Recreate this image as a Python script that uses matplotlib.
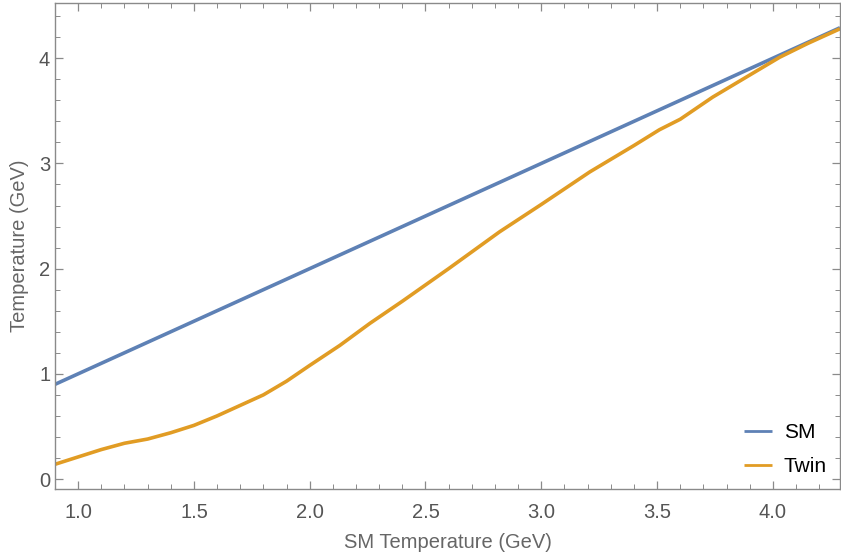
import numpy as np
import matplotlib
matplotlib.use("Agg")
import matplotlib.pyplot as plt
from matplotlib.ticker import MultipleLocator, FormatStrFormatter

# data
sm_temp = [0.90, 4.29]
sm_line = [0.90, 4.29]

twin_x = [0.90, 1.0, 1.1, 1.2, 1.3, 1.4, 1.5, 1.6, 1.7, 1.8, 1.9, 2.0, 2.13,
          2.26, 2.4, 2.6, 2.82, 3.0, 3.21, 3.4, 3.51, 3.6, 3.74, 3.9, 4.03,
          4.15, 4.29]
twin_y = [0.14, 0.21, 0.28, 0.34, 0.38, 0.44, 0.51, 0.60, 0.70, 0.80, 0.93,
          1.08, 1.27, 1.48, 1.69, 2.00, 2.35, 2.61, 2.92, 3.17, 3.32, 3.42,
          3.63, 3.84, 4.01, 4.14, 4.28]

labels = ["SM", "Twin"]
colors = ["#5E81B5", "#E19C24"]

plt.rcParams["font.family"] = ["Liberation Sans", "DejaVu Sans"]

fig = plt.figure(figsize=(8.41, 5.59), dpi=100)
ax = fig.add_axes([0.0654, 0.1252, 0.9334, 0.8694])

ax.plot(sm_temp, sm_line, color=colors[0], lw=2.6, label=labels[0],
        solid_capstyle="butt")
ax.plot(twin_x, twin_y, color=colors[1], lw=2.6, label=labels[1],
        solid_capstyle="butt", solid_joinstyle="round")

ax.set_xlim(0.90, 4.29)
ax.set_ylim(-0.095, 4.525)

ax.xaxis.set_major_locator(MultipleLocator(0.5))
ax.xaxis.set_minor_locator(MultipleLocator(0.1))
ax.yaxis.set_major_locator(MultipleLocator(1))
ax.yaxis.set_minor_locator(MultipleLocator(0.2))
ax.xaxis.set_major_formatter(FormatStrFormatter("%.1f"))

frame_gray = "#8a8a8a"
for s in ax.spines.values():
    s.set_color(frame_gray)
    s.set_linewidth(1.0)

ax.tick_params(which="both", direction="in", top=True, right=True,
               color=frame_gray, labelcolor="#555555", labelsize=14.5)
ax.tick_params(which="major", length=6, width=0.9)
ax.tick_params(which="minor", length=3.5, width=0.7)
ax.tick_params(axis="x", which="major", pad=10)
ax.tick_params(axis="y", which="major", pad=3.5)

ax.set_xlabel("SM Temperature (GeV)", fontsize=14.5, color="#666666",
              labelpad=8)
ax.set_ylabel("Temperature (GeV)", fontsize=14.5, color="#666666",
              labelpad=7)

leg = ax.legend(loc="lower right", frameon=False, fontsize=15,
                handlelength=1.35, handletextpad=0.57, labelspacing=0.72,
                bbox_to_anchor=(1.007, -0.012))
for line in leg.get_lines():
    line.set_linewidth(2.0)

fig.savefig("out.png", dpi=100)
